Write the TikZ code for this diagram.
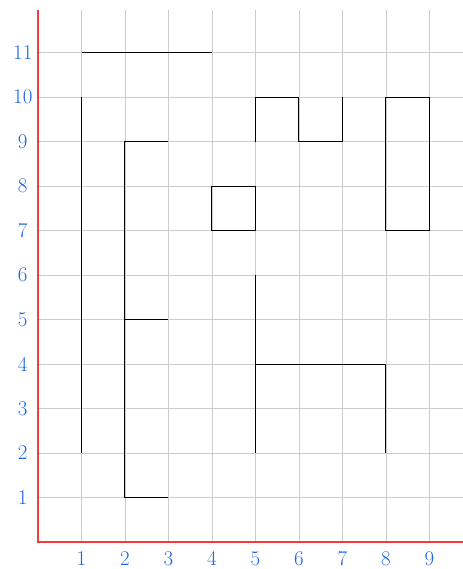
\documentclass[tikz,border=0pt]{standalone}
\usepackage{fontspec}
\definecolor{lblblue}{RGB}{30,100,230}
\definecolor{axred}{RGB}{240,60,60}
\tikzset{
  gridline/.style={draw=black!20, line width=0.7bp},
  axisline/.style={draw=axred, line width=1.6bp},
  seg/.style={draw=black, line width=1bp},
  lbl/.style={text=lblblue, font=\fontsize{21}{21}\selectfont, inner sep=0pt},
}
\begin{document}
\begin{tikzpicture}[x=43.5bp,y=44.5bp]
\useasboundingbox (-0.8736,-0.6067) rectangle (9.770,12.180);
% grid
\foreach \i in {1,...,9} \draw[gridline] (\i,0) -- (\i,11.95);
\foreach \j in {1,...,11} \draw[gridline] (0,\j) -- (9.77,\j);
% axes
\draw[axisline] (0,11.95) -- (0,0) -- (9.77,0);
% labels
\foreach \i in {1,...,9} \node[lbl] (xl\i) at (\i,-0.37) {\i};
\foreach \j in {1,...,11} \node[lbl] (yl\j) at (-0.35,\j) {\j};
% segments
\draw[seg] (1,11) -- (4,11);
\draw[seg] (1,10) -- (1,2);
\draw[seg] (3,9) -- (2,9) -- (2,1) -- (3,1);
\draw[seg] (2,5) -- (3,5);
\draw[seg] (4,7) rectangle (5,8);
\draw[seg] (5,9) -- (5,10) -- (6,10) -- (6,9) -- (7,9) -- (7,10);
\draw[seg] (8,7) rectangle (9,10);
\draw[seg] (5,6) -- (5,2);
\draw[seg] (5,4) -- (8,4) -- (8,2);
\end{tikzpicture}
\end{document}
